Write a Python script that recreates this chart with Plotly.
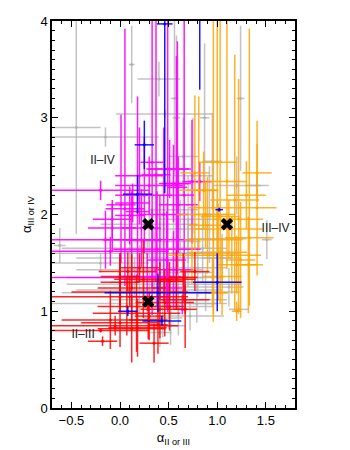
import plotly.graph_objects as go

# grey: all other pairs
gray_x = [-0.45, -0.15, 0.40, 0.46, 0.56, 0.87, 1.24, 0.12, 0.58, -0.62, 1.51, 1.41, 1.22,
          0.38, 0.55, 0.62, 0.48, 0.70, 0.80, 0.55, 0.45, 0.66, 0.88, 0.30, 0.20, 0.35, 0.10,
          0.25, 0.60, 0.79, 0.44, 0.41, 0.95, 1.00, 0.92, 1.20, 0.75, 1.05, 0.72, 0.52, 0.15,
          -0.20, 0.30, 0.65, 0.95, 1.12, 0.20, 0.28, 0.70, 0.50, 0.85, 0.35, 0.60]
gray_y = [2.90, 2.80, 3.40, 3.04, 3.20, 3.00, 3.20, 3.55, 3.00, 1.68, 1.74, 2.30, 1.02,
          2.20, 2.05, 1.85, 1.72, 1.60, 1.45, 1.40, 1.30, 1.25, 1.20, 1.22, 1.43, 1.55, 1.65,
          1.19, 1.05, 1.08, 0.93, 0.78, 1.30, 1.75, 2.00, 2.30, 2.40, 1.55, 0.95, 0.85, 1.35,
          1.50, 1.90, 2.60, 2.55, 1.25, 1.08, 1.60, 1.95, 1.12, 1.65, 1.28, 1.35]
gray_ex = [0.25, 0.55, 0.22, 0.50, 0.04, 0.05, 0.04, 0.03, 0.04, 0.06, 0.05, 0.12, 0.10,
           0.15, 0.25, 0.30, 0.35, 0.25, 0.30, 0.40, 0.55, 0.30, 0.35, 0.75, 0.65, 0.80, 0.70,
           0.85, 0.35, 0.20, 0.20, 0.12, 0.30, 0.30, 0.20, 0.25, 0.20, 0.20, 0.35, 0.15, 0.70,
           0.50, 0.50, 0.15, 0.10, 0.15, 0.90, 0.95, 0.30, 0.60, 0.25, 0.90, 0.45]
gray_ey = [1.10, 0.10, 0.18, 0.05, 0.80, 0.77, 0.75, 0.40, 0.85, 0.18, 0.20, 0.10, 0.05,
           0.30, 0.35, 0.30, 0.40, 0.35, 0.30, 0.30, 0.25, 0.25, 0.20, 0.20, 0.25, 0.30, 0.35,
           0.15, 0.30, 0.20, 0.20, 0.15, 0.25, 0.40, 0.50, 0.30, 0.60, 0.25, 0.15, 0.20, 0.20,
           0.10, 0.35, 0.40, 0.50, 0.20, 0.10, 0.12, 0.45, 0.30, 0.35, 0.10, 0.40]

# magenta: II-IV (upper and lower y errors)
mag_x = [0.01, 0.05, 0.18, 0.33, 0.37, 0.49, 0.58, 0.59, 0.66, 0.74, 0.82, 0.13,
         -0.20, 0.10, -0.08, -0.08, 0.22, 0.41, -0.15, 0.12, 0.38, 0.48, 0.55, 0.33,
         0.49, 0.25, 0.45, 0.00, -0.10, 0.28, 0.64, 0.30, 0.60, 0.20, 0.51, 0.55]
mag_y = [2.10, 2.06, 2.03, 2.54, 2.41, 2.47, 2.32, 2.28, 2.20, 2.34, 2.34, 2.12,
         2.25, 1.99, 1.95, 1.86, 1.86, 1.74, 1.74, 1.74, 1.64, 1.53, 1.43, 1.36,
         1.24, 2.20, 2.00, 1.35, 1.62, 1.15, 1.02, 2.30, 2.10, 2.40, 2.47, 2.32]
mag_ex = [0.15, 0.20, 0.12, 0.12, 0.15, 0.22, 0.15, 0.10, 0.10, 0.10, 0.12, 0.18,
          0.50, 0.15, 0.20, 0.25, 0.20, 0.35, 0.55, 0.30, 0.45, 0.20, 0.20, 0.30,
          0.15, 0.30, 0.25, 0.70, 0.60, 0.20, 0.05, 0.35, 0.20, 0.25, 0.22, 0.15]
mag_ey = [0.93, 1.86, 1.19, 1.60, 1.70, 1.60, 1.32, 1.51, 1.90, 0.64, 0.20, 0.20,
          0.10, 0.30, 0.20, 0.25, 0.40, 0.45, 0.30, 0.50, 0.60, 0.50, 0.40, 0.70,
          0.30, 0.60, 0.90, 0.25, 0.15, 0.45, 0.15, 0.30, 0.50, 0.50, 0.30, 0.40]
mag_ey_lo = [0.60, 0.80, 0.70, 1.30, 1.10, 1.45, 1.30, 0.90, 1.00, 0.64, 0.20, 0.20,
             0.10, 0.30, 0.20, 0.25, 0.40, 0.45, 0.30, 0.50, 0.60, 0.50, 0.40, 0.40,
             0.25, 0.60, 0.90, 0.25, 0.15, 0.15, 0.05, 0.30, 0.50, 0.50, 0.30, 0.40]

# orange: III-IV
org_x = [1.00, 0.77, 1.41, 1.10, 0.81, 1.18, 1.41, 0.96, 1.03, 1.22, 0.90, 0.96, 1.33,
         0.86, 1.01, 1.24, 1.05, 1.32, 1.15, 1.20, 0.74, 0.96, 1.20, 1.12, 0.88, 1.30]
org_y = [2.54, 2.43, 2.43, 2.34, 2.25, 2.15, 2.07, 2.07, 1.98, 1.95, 1.89, 1.74, 1.76,
         2.25, 1.61, 1.53, 1.36, 1.48, 1.58, 1.48, 1.58, 1.19, 1.00, 1.85, 2.00, 2.20]
org_ex = [0.20, 0.15, 0.15, 0.20, 0.20, 0.25, 0.20, 0.25, 0.20, 0.25, 0.20, 0.30, 0.25,
          0.15, 0.30, 0.15, 0.20, 0.15, 0.30, 0.20, 0.25, 0.15, 0.05, 0.35, 0.30, 0.20]
org_ey = [1.50, 0.80, 0.30, 1.70, 0.97, 1.50, 0.90, 1.95, 2.10, 1.45, 0.50, 0.50, 2.16,
          0.40, 0.50, 0.60, 0.40, 0.50, 0.40, 0.30, 0.30, 0.30, 0.10, 0.30, 0.35, 0.35]
org_ey_lo = [1.00, 0.80, 0.30, 0.90, 0.60, 1.15, 0.70, 1.10, 0.90, 0.95, 0.50, 0.50, 0.70,
             0.40, 0.50, 0.60, 0.40, 0.50, 0.40, 0.30, 0.30, 0.30, 0.10, 0.30, 0.35, 0.35]

# red: II-III
red_x = [0.08, 0.00, 0.41, -0.10, 0.12, 0.18, 0.35, -0.18, 0.00, 0.17, 0.29, 0.41, 0.51,
         0.67, 0.77, 0.58, 0.67, 0.00, 0.24, 0.12, 0.51, 0.65, 0.07, 0.46, 0.30, 0.39,
         -0.20, 0.00, -0.05, 0.10, 0.20]
red_y = [1.41, 1.30, 1.31, 0.91, 0.82, 0.83, 0.67, 0.69, 0.88, 0.98, 0.91, 1.02, 1.05,
         1.02, 1.41, 1.33, 1.12, 1.36, 1.33, 1.24, 1.31, 1.35, 1.05, 1.09, 0.95, 0.86,
         0.80, 1.15, 0.85, 1.20, 1.45]
red_ex = [0.30, 0.20, 0.25, 0.50, 0.35, 0.30, 0.15, 0.15, 0.40, 0.45, 0.20, 0.20, 0.15,
          0.12, 0.15, 0.20, 0.25, 0.20, 0.30, 0.35, 0.15, 0.15, 0.30, 0.30, 0.15, 0.10,
          0.50, 0.70, 0.65, 0.60, 0.20]
red_ey = [0.20, 0.30, 0.20, 0.30, 0.35, 0.30, 0.20, 0.05, 0.25, 0.40, 0.20, 0.30, 0.25,
          0.40, 0.20, 0.30, 0.15, 0.20, 0.40, 0.35, 0.20, 0.25, 0.30, 0.35, 0.25, 0.30,
          0.02, 0.10, 0.10, 0.15, 0.15]

# blue
blu_x = [0.46, 0.25, 0.18, 1.00, 0.43, 0.39, 0.82, 0.08, 1.02]
blu_y = [3.97, 2.72, 2.21, 1.30, 0.90, 1.19, 4.05, 1.00, 2.05]
blu_ex = [0.08, 0.10, 0.15, 0.25, 0.20, 0.55, 0.03, 0.10, 0.04]
blu_ey = [0.10, 0.25, 0.20, 0.30, 0.05, 0.20, 0.76, 0.05, 0.02]
blu_ey_lo = [1.75, 0.25, 0.20, 0.30, 0.05, 0.20, 0.76, 0.05, 0.02]

# average positions (crosses)
avg_x = [0.29, 1.10, 0.29]
avg_y = [1.90, 1.90, 1.10]

labels = ["II\u2013IV", "III\u2013IV", "II\u2013III"]
label_x = [-0.18, 1.60, -0.38]
label_y = [2.55, 1.85, 0.75]

fig = go.Figure()


def add_group(xs, ys, exs, eys, col, eys_lo=None):
    ey = dict(type="data", array=eys, color=col, thickness=1.5, width=0)
    if eys_lo is not None:
        ey["symmetric"] = False
        ey["arrayminus"] = eys_lo
    fig.add_trace(go.Scatter(
        x=xs, y=ys, mode="markers",
        marker=dict(size=3, color=col),
        error_x=dict(type="data", array=exs, color=col, thickness=1.5, width=0),
        error_y=ey,
        showlegend=False, hoverinfo="skip"))


add_group(gray_x, gray_y, gray_ex, gray_ey, "rgba(175,175,175,0.75)")
add_group(mag_x, mag_y, mag_ex, mag_ey, "rgba(255,0,255,0.9)", mag_ey_lo)
add_group(org_x, org_y, org_ex, org_ey, "rgba(255,165,0,0.85)", org_ey_lo)
add_group(red_x, red_y, red_ex, red_ey, "rgba(255,0,0,0.85)")
add_group(blu_x, blu_y, blu_ex, blu_ey, "rgba(0,0,255,0.9)", blu_ey_lo)

fig.add_trace(go.Scatter(
    x=avg_x, y=avg_y, mode="markers",
    marker=dict(symbol="x", size=11, color="black", line=dict(width=0)),
    showlegend=False, hoverinfo="skip"))

fig.add_trace(go.Scatter(
    x=label_x, y=label_y, mode="text", text=labels,
    textfont=dict(size=12, color="#222222"),
    showlegend=False, hoverinfo="skip"))

axis_common = dict(
    showline=True, linecolor="black", linewidth=1.5, mirror="ticks",
    ticks="inside", ticklen=6, tickwidth=1, tickcolor="black",
    showgrid=False, zeroline=False, automargin=False,
    tickfont=dict(size=13, color="black"),
)

fig.update_xaxes(
    range=[-0.7, 1.8], dtick=0.5, tick0=0, tickformat=".1f",
    minor=dict(dtick=0.1, ticks="inside", ticklen=3, tickcolor="black"),
    title=dict(text="\u03b1<sub>II or III</sub>", font=dict(size=13), standoff=6),
    **axis_common)
fig.update_yaxes(
    range=[0, 4], dtick=1,
    minor=dict(dtick=0.1, ticks="inside", ticklen=3, tickcolor="black"),
    title=dict(text="\u03b1<sub>III or IV</sub>", font=dict(size=13), standoff=6),
    **axis_common)

# the page body adds an 8px offset, so the figure is sized to fit the window
fig.update_layout(
    width=342, height=442,
    margin=dict(l=44, r=55, t=13, b=42),
    plot_bgcolor="white", paper_bgcolor="white",
    font=dict(family="Liberation Sans, Arial, sans-serif", color="black"),
)

fig.write_html("out.html")
